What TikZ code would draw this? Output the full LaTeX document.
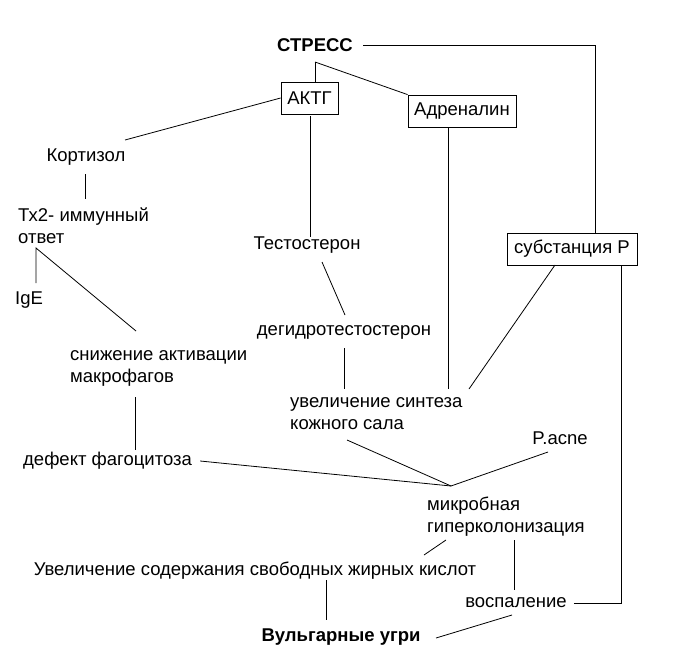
\documentclass[tikz,border=0pt]{standalone}
\usepackage{fontspec}
\setmainfont{Liberation Sans}
\begin{document}
\begin{tikzpicture}[x=1pt,y=-1pt,
  lbl/.style={inner sep=0pt,font=\fontsize{18.5}{22}\selectfont,align=left},
  bx/.style={draw,thick,inner sep=4pt,minimum height=32pt,font=\fontsize{18.5}{22}\selectfont},
  ln/.style={thick}]
\useasboundingbox (0,0) rectangle (672,672);
\node[lbl,font=\fontsize{18.5}{22}\selectfont\bfseries] (stress) at (315,45) {СТРЕСС};
\coordinate (br) at (315,62);
\node[bx,minimum width=57pt] (actg) at (309.5,98) {АКТГ};
\node[bx,minimum width=108pt] (adr) at (462,111) {Адреналин};
\node[bx,minimum width=130pt] (subp) at (572,249) {субстанция P};
\node[lbl] (kort) at (86,157) {Кортизол};
\node[lbl,anchor=west] (th2) at (18,226) {Тх2- иммунный\\ответ};
\coordinate (thb) at (36,248);
\node[lbl] (ige) at (29,300) {IgE};
\node[lbl,anchor=west] (snizh) at (70,368) {снижение активации\\макрофагов};
\node[lbl,anchor=west] (def) at (23,461) {дефект фагоцитоза};
\node[lbl] (test) at (307,245) {Тестостерон};
\node[lbl] (dgt) at (344,332) {дегидротестостерон};
\node[lbl,anchor=west] (uvs) at (290,414) {увеличение синтеза\\кожного сала};
\node[lbl] (pacne) at (560,438) {P.acne};
\coordinate (conv) at (451,486);
\node[lbl,anchor=west] (mikr) at (427,517) {микробная\\гиперколонизация};
\node[lbl] (uvel) at (255,571) {Увеличение содержания свободных жирных кислот};
\node[lbl] (vosp) at (516,603) {воспаление};
\node[lbl,font=\fontsize{18.5}{22}\selectfont\bfseries] (vulg) at (341,637) {Вульгарные угри};

\draw[ln] (stress.east)+(10,0) -- (595,45) -- (subp.north -| 595,0);
\draw[ln] (br) -- (actg.north -| br);
\draw[ln] (br) -- (adr.north west);
\draw[ln] (actg.west) -- (125,140);
\draw[ln] (85,174) -- (85,199);
\draw[ln] (36,283) -- (thb) -- (136,331);
\draw[ln] (135,397) -- (135,450);
\draw[ln] (310,116) -- (test.north -| 310,0);
\draw[ln] (322,262) -- (345,315);
\draw[ln] (344,348) -- (344,389);
\draw[ln] (448,128) -- (448,389);
\draw[ln] (555,265) -- (469,389);
\draw[ln] (def.east)+(8,0) -- (conv);
\draw[ln] (347,440) -- (conv) -- (548,452);
\draw[ln] (446,540) -- (424,555);
\draw[ln] (514,540) -- (514,590);
\draw[ln] (326,580) -- (326,620);
\draw[ln] (vosp.east)+(7,0) -- (621,603) -- (621,265);
\draw[ln] (512,615) -- (436,638);
\end{tikzpicture}
\end{document}
